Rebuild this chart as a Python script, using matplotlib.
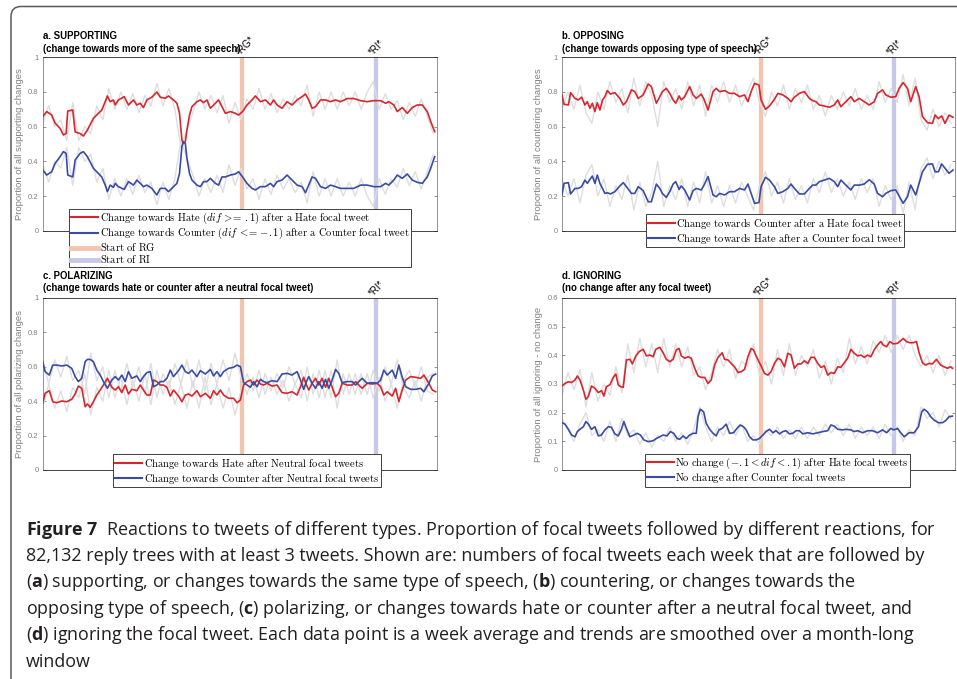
import numpy as np
import matplotlib
matplotlib.use("Agg")
from matplotlib import pyplot as plt
from matplotlib.lines import Line2D
from matplotlib.patches import FancyBboxPatch
from matplotlib.font_manager import FontProperties

plt.rcParams['font.family'] = ['Liberation Sans', 'DejaVu Sans']
plt.rcParams['mathtext.fontset'] = 'custom'
plt.rcParams['mathtext.rm'] = 'Open Sans'
plt.rcParams['mathtext.bf'] = 'Open Sans:bold'
plt.rcParams['mathtext.it'] = 'Open Sans:italic'
plt.rcParams['axes.linewidth'] = 0.6

# ---- data (weeks since start of the observation period) ----
RG_WEEK = 99.7
RI_WEEK = 166.2
raw_weeks = np.arange(0, 196, 3)

# a. supporting
a_weeks = [0, 2, 4.5, 6.2, 8.7, 10.3, 11.7, 12.5, 15, 16.2,
           18.7, 20.3, 22.3, 25.3, 27.8, 29.5, 31.2, 32.3, 33.7, 35.3,
           36.2, 37.8, 40.7, 42.8, 45.3, 47, 48.7, 50.3, 52, 54.5,
           57, 58.7, 61.2, 62.8, 65.3, 67, 68.3, 69.5, 70.3, 71.2,
           72, 73.3, 74.5, 77, 78.7, 80.3, 82, 83.7, 86.2, 87.8,
           89.5, 91.2, 93.7, 96.2, 97.8, 99.8, 102, 104.5, 106.2, 108.7,
           111.2, 113.7, 115.3, 117, 119.5, 122, 124.5, 127, 129.5, 131.2,
           132.8, 134.5, 136.2, 138.7, 141.2, 143.7, 146.2, 148.7, 152, 155.3,
           158.7, 162, 165.3, 168.7, 171.2, 172.8, 175.3, 177, 179.5, 182,
           184.5, 187, 189.5, 192, 193.7, 195.7]
a_hate = [0.658, 0.687, 0.667, 0.62, 0.59, 0.552, 0.56, 0.69, 0.696, 0.57,
          0.56, 0.546, 0.58, 0.648, 0.677, 0.696, 0.744, 0.777, 0.744, 0.754,
          0.725, 0.754, 0.773, 0.725, 0.754, 0.725, 0.735, 0.71, 0.754, 0.77,
          0.80, 0.77, 0.764, 0.777, 0.754, 0.735, 0.677, 0.523, 0.504, 0.513,
          0.58, 0.667, 0.715, 0.744, 0.754, 0.738, 0.754, 0.706, 0.735, 0.754,
          0.715, 0.677, 0.687, 0.677, 0.667, 0.687, 0.725, 0.754, 0.777, 0.744,
          0.754, 0.725, 0.754, 0.725, 0.706, 0.744, 0.725, 0.754, 0.773, 0.788,
          0.754, 0.706, 0.715, 0.754, 0.754, 0.744, 0.754, 0.744, 0.762, 0.762,
          0.75, 0.744, 0.75, 0.75, 0.735, 0.744, 0.725, 0.687, 0.71, 0.677,
          0.71, 0.725, 0.725, 0.687, 0.63, 0.571]
a_counter = [0.35, 0.321, 0.34, 0.388, 0.427, 0.456, 0.446, 0.321, 0.31, 0.408,
             0.446, 0.456, 0.427, 0.36, 0.33, 0.31, 0.263, 0.225, 0.263, 0.25,
             0.273, 0.254, 0.238, 0.283, 0.263, 0.292, 0.273, 0.254, 0.263, 0.244,
             0.206, 0.244, 0.244, 0.225, 0.254, 0.273, 0.33, 0.485, 0.513, 0.504,
             0.417, 0.33, 0.292, 0.263, 0.254, 0.283, 0.283, 0.302, 0.273, 0.263,
             0.31, 0.31, 0.321, 0.327, 0.34, 0.31, 0.273, 0.244, 0.235, 0.254,
             0.254, 0.273, 0.254, 0.283, 0.292, 0.321, 0.292, 0.263, 0.254, 0.219,
             0.263, 0.31, 0.302, 0.254, 0.244, 0.263, 0.254, 0.244, 0.244, 0.244,
             0.263, 0.263, 0.254, 0.254, 0.273, 0.263, 0.292, 0.321, 0.302, 0.327,
             0.292, 0.279, 0.273, 0.31, 0.36, 0.427]
a_raw_hate = [0.62, 0.72, 0.60, 0.64, 0.52, 0.74, 0.52, 0.60, 0.56, 0.72, 0.64,
              0.82, 0.70, 0.80, 0.70, 0.79, 0.68, 0.78, 0.72, 0.85, 0.72, 0.82,
              0.70, 0.48, 0.58, 0.68, 0.80, 0.70, 0.78, 0.68, 0.78, 0.62, 0.74,
              0.64, 0.76, 0.70, 0.82, 0.70, 0.79, 0.68, 0.76, 0.70, 0.78, 0.72,
              0.84, 0.66, 0.80, 0.70, 0.80, 0.70, 0.80, 0.72, 0.80, 0.70, 0.80,
              0.86, 0.70, 0.79, 0.70, 0.75, 0.64, 0.74, 0.66, 0.76, 0.66, 0.56]
a_raw_counter = [0.38, 0.28, 0.40, 0.36, 0.48, 0.26, 0.48, 0.40, 0.44, 0.28, 0.36,
                 0.18, 0.30, 0.20, 0.30, 0.21, 0.32, 0.22, 0.28, 0.15, 0.28, 0.18,
                 0.30, 0.52, 0.42, 0.32, 0.20, 0.30, 0.22, 0.32, 0.22, 0.38, 0.26,
                 0.36, 0.24, 0.30, 0.18, 0.30, 0.21, 0.32, 0.24, 0.30, 0.22, 0.28,
                 0.16, 0.34, 0.20, 0.30, 0.20, 0.30, 0.20, 0.28, 0.20, 0.30, 0.20,
                 0.14, 0.30, 0.21, 0.30, 0.25, 0.36, 0.26, 0.34, 0.24, 0.34, 0.44]

# b. opposing
b_weeks = [0, 1, 3.2, 4.3, 6.5, 8.2, 9.8, 11.5, 12.7, 14,
           15.2, 16.5, 17.7, 19, 20.3, 21.5, 22.7, 24.3, 26.5, 29,
           30.7, 32.3, 34.8, 36.5, 38.2, 40.7, 43.2, 44.8, 47.3, 49,
           50.3, 52.3, 54, 55.7, 57, 58.7, 59.8, 61.5, 64, 65.7,
           67.3, 69.8, 71, 73.2, 75.7, 77.3, 79, 81.5, 84, 86.5,
           89, 91.5, 93.2, 94.8, 96.5, 98.7, 99.8, 102, 104, 106.5,
           108.2, 110.7, 113.2, 114.8, 116.5, 119, 121.5, 124, 125.7, 127.3,
           129, 131.5, 134, 136.5, 138.2, 139.8, 142.3, 144.8, 146.5, 149,
           151.5, 154, 156.5, 158.2, 160.7, 162.3, 164.8, 167.3, 169, 171,
           173.2, 174.8, 177.3, 179, 180.7, 183.2, 185.7, 187, 188.7, 190.3,
           192, 194, 196]
b_hate = [0.783, 0.729, 0.725, 0.796, 0.763, 0.754, 0.77, 0.725, 0.744, 0.706,
          0.735, 0.687, 0.738, 0.696, 0.754, 0.773, 0.808, 0.788, 0.796, 0.763,
          0.725, 0.744, 0.812, 0.802, 0.763, 0.783, 0.846, 0.831, 0.735, 0.773,
          0.802, 0.821, 0.792, 0.754, 0.735, 0.777, 0.754, 0.773, 0.831, 0.783,
          0.763, 0.788, 0.763, 0.696, 0.802, 0.821, 0.802, 0.808, 0.792, 0.792,
          0.773, 0.783, 0.744, 0.802, 0.85, 0.84, 0.754, 0.70, 0.719, 0.758,
          0.792, 0.783, 0.763, 0.744, 0.77, 0.792, 0.802, 0.763, 0.75, 0.744,
          0.725, 0.719, 0.712, 0.725, 0.754, 0.715, 0.744, 0.773, 0.744, 0.763,
          0.744, 0.725, 0.744, 0.792, 0.812, 0.783, 0.77, 0.773, 0.821, 0.854,
          0.821, 0.744, 0.831, 0.773, 0.658, 0.623, 0.619, 0.667, 0.646, 0.662,
          0.619, 0.667, 0.654]
b_counter = [0.206, 0.273, 0.277, 0.212, 0.244, 0.244, 0.254, 0.292, 0.273, 0.296,
             0.315, 0.273, 0.321, 0.273, 0.244, 0.215, 0.219, 0.212, 0.225, 0.258,
             0.277, 0.254, 0.215, 0.215, 0.254, 0.231, 0.167, 0.167, 0.269, 0.244,
             0.215, 0.192, 0.225, 0.269, 0.283, 0.238, 0.258, 0.235, 0.177, 0.231,
             0.244, 0.235, 0.258, 0.312, 0.206, 0.196, 0.215, 0.206, 0.225, 0.225,
             0.244, 0.235, 0.269, 0.215, 0.158, 0.162, 0.254, 0.308, 0.292, 0.254,
             0.215, 0.225, 0.244, 0.269, 0.244, 0.212, 0.212, 0.244, 0.263, 0.263,
             0.283, 0.292, 0.302, 0.283, 0.254, 0.292, 0.263, 0.235, 0.263, 0.263,
             0.269, 0.294, 0.269, 0.215, 0.196, 0.215, 0.231, 0.235, 0.20, 0.158,
             0.196, 0.263, 0.206, 0.273, 0.34, 0.383, 0.385, 0.34, 0.34, 0.385,
             0.36, 0.331, 0.35]
b_raw_hate = [0.70, 0.80, 0.70, 0.84, 0.68, 0.62, 0.80, 0.70, 0.86, 0.74, 0.82,
              0.68, 0.88, 0.72, 0.86, 0.78, 0.60, 0.86, 0.74, 0.82, 0.70, 0.86,
              0.72, 0.84, 0.66, 0.84, 0.74, 0.86, 0.74, 0.84, 0.72, 0.80, 0.88,
              0.74, 0.66, 0.80, 0.72, 0.84, 0.70, 0.82, 0.74, 0.84, 0.70, 0.78,
              0.66, 0.78, 0.70, 0.80, 0.72, 0.82, 0.70, 0.78, 0.70, 0.86, 0.74,
              0.82, 0.74, 0.90, 0.72, 0.88, 0.64, 0.58, 0.70, 0.60, 0.68, 0.62]
b_raw_counter = [0.30, 0.20, 0.30, 0.16, 0.32, 0.38, 0.20, 0.30, 0.14, 0.26, 0.18,
                 0.32, 0.12, 0.28, 0.14, 0.22, 0.40, 0.14, 0.26, 0.18, 0.30, 0.14,
                 0.28, 0.16, 0.34, 0.16, 0.26, 0.14, 0.26, 0.16, 0.28, 0.20, 0.12,
                 0.26, 0.34, 0.20, 0.28, 0.16, 0.30, 0.18, 0.26, 0.16, 0.30, 0.22,
                 0.34, 0.22, 0.30, 0.20, 0.28, 0.18, 0.30, 0.22, 0.30, 0.14, 0.26,
                 0.18, 0.26, 0.10, 0.28, 0.12, 0.36, 0.42, 0.30, 0.40, 0.32, 0.38]

# c. polarizing
c_weeks = [0, 1.2, 3.3, 5, 7, 9.5, 12, 14.5, 16.2, 17.8,
           19.5, 21.2, 22.3, 23.7, 25.3, 27, 28.7, 30.3, 32.3, 34.5,
           36.2, 37.8, 39.5, 41.2, 42.8, 44.5, 47, 48.7, 50.3, 52,
           53.7, 55.3, 57, 58.7, 60.3, 62, 63.7, 65.3, 67.8, 69.5,
           71.2, 72.8, 74.5, 77, 78.7, 81.2, 83.7, 85.3, 87, 88.7,
           90.3, 92.8, 95.3, 97, 98.7, 100.3, 102, 103.7, 105.3, 107,
           108.7, 110.3, 112, 114.5, 117, 119.5, 122, 124.5, 127, 128.7,
           130.3, 131.7, 132.8, 134.5, 136.2, 137.8, 139.5, 141.2, 142.8, 144.5,
           146.2, 147.8, 149.5, 152, 154.5, 156.2, 157.8, 159.5, 162, 164.5,
           167, 168.7, 170.3, 172, 174.5, 176.2, 177.8, 179.5, 181.2, 183.7,
           186.2, 188.7, 190.3, 192.8, 194.5, 196.2]
c_hate = [0.388, 0.446, 0.461, 0.397, 0.391, 0.401, 0.397, 0.411, 0.442, 0.488,
          0.475, 0.368, 0.384, 0.364, 0.397, 0.436, 0.465, 0.494, 0.533, 0.481,
          0.465, 0.484, 0.45, 0.494, 0.442, 0.469, 0.461, 0.494, 0.465, 0.436,
          0.436, 0.523, 0.514, 0.494, 0.494, 0.481, 0.43, 0.465, 0.43, 0.397,
          0.436, 0.442, 0.43, 0.461, 0.426, 0.446, 0.417, 0.461, 0.436, 0.465,
          0.436, 0.417, 0.417, 0.391, 0.407, 0.494, 0.514, 0.523, 0.494, 0.523,
          0.50, 0.494, 0.504, 0.488, 0.494, 0.45, 0.446, 0.455, 0.436, 0.484,
          0.539, 0.494, 0.465, 0.504, 0.533, 0.494, 0.533, 0.481, 0.533, 0.481,
          0.426, 0.446, 0.504, 0.494, 0.494, 0.514, 0.494, 0.475, 0.504, 0.50,
          0.504, 0.484, 0.436, 0.455, 0.43, 0.475, 0.397, 0.465, 0.523, 0.543,
          0.539, 0.533, 0.552, 0.504, 0.465, 0.455]
c_counter = [0.63, 0.572, 0.552, 0.61, 0.61, 0.605, 0.61, 0.591, 0.543, 0.514,
             0.533, 0.63, 0.643, 0.643, 0.63, 0.581, 0.552, 0.514, 0.475, 0.523,
             0.543, 0.523, 0.552, 0.514, 0.572, 0.533, 0.547, 0.514, 0.543, 0.566,
             0.572, 0.484, 0.494, 0.514, 0.514, 0.533, 0.581, 0.543, 0.578, 0.61,
             0.572, 0.562, 0.581, 0.543, 0.578, 0.558, 0.585, 0.547, 0.572, 0.543,
             0.572, 0.591, 0.597, 0.61, 0.601, 0.508, 0.494, 0.481, 0.514, 0.484,
             0.527, 0.514, 0.508, 0.519, 0.514, 0.558, 0.562, 0.552, 0.572, 0.523,
             0.469, 0.514, 0.543, 0.504, 0.475, 0.514, 0.475, 0.527, 0.475, 0.523,
             0.585, 0.562, 0.508, 0.514, 0.514, 0.494, 0.514, 0.533, 0.504, 0.508,
             0.504, 0.523, 0.581, 0.552, 0.581, 0.533, 0.61, 0.539, 0.484, 0.469,
             0.469, 0.475, 0.455, 0.504, 0.547, 0.558]
c_raw_hate = [0.36, 0.50, 0.36, 0.46, 0.34, 0.48, 0.42, 0.56, 0.32, 0.48, 0.40,
              0.58, 0.42, 0.54, 0.38, 0.52, 0.40, 0.56, 0.38, 0.58, 0.44, 0.52,
              0.38, 0.50, 0.36, 0.52, 0.36, 0.54, 0.38, 0.50, 0.36, 0.48, 0.32,
              0.46, 0.56, 0.46, 0.58, 0.44, 0.54, 0.44, 0.52, 0.40, 0.50, 0.42,
              0.60, 0.44, 0.58, 0.42, 0.58, 0.36, 0.56, 0.44, 0.56, 0.44, 0.56,
              0.42, 0.54, 0.40, 0.50, 0.36, 0.52, 0.58, 0.48, 0.60, 0.46, 0.44]
c_raw_counter = [0.64, 0.50, 0.64, 0.54, 0.66, 0.52, 0.58, 0.44, 0.68, 0.52, 0.60,
                 0.42, 0.58, 0.46, 0.62, 0.48, 0.60, 0.44, 0.62, 0.42, 0.56, 0.48,
                 0.62, 0.50, 0.64, 0.48, 0.64, 0.46, 0.62, 0.50, 0.64, 0.52, 0.68,
                 0.54, 0.44, 0.54, 0.42, 0.56, 0.46, 0.56, 0.48, 0.60, 0.50, 0.58,
                 0.40, 0.56, 0.42, 0.58, 0.42, 0.64, 0.44, 0.56, 0.44, 0.56, 0.44,
                 0.58, 0.46, 0.60, 0.50, 0.64, 0.48, 0.42, 0.52, 0.40, 0.54, 0.56]

# d. ignoring
d_weeks_hate = [0, 1.5, 3.2, 4.8, 6.5, 7.7, 9, 10.7, 12, 13.2,
                14.8, 16.5, 18.2, 19.8, 21, 22.3, 24, 25.7, 27, 28.2,
                29.3, 30.7, 32.3, 34, 35.3, 37, 38.7, 40.7, 42.3, 44,
                45.7, 47, 49, 50.7, 52.3, 54, 55.7, 57.3, 58.7, 59.8,
                61.5, 63.2, 64.8, 66.5, 68.2, 69.8, 71.5, 73.2, 74.8, 76.5,
                78.2, 80.3, 81.5, 83.2, 84.8, 86.5, 88.2, 89.8, 91.5, 93.2,
                94.8, 96, 97.3, 98.7, 99.8, 101.5, 103.2, 104.8, 106.5, 108.2,
                109.8, 111.5, 113.2, 114.8, 116.5, 118.2, 119.8, 121.5, 123.2, 124.8,
                126.5, 128.2, 129.8, 131.5, 133.2, 134.8, 136.5, 138.2, 139.8, 141.5,
                143.2, 144.8, 146.5, 148.2, 149.8, 151.5, 153.2, 154.8, 156.5, 158.2,
                159.8, 161, 162.7, 164.3, 166, 168.2, 169.8, 171, 172.7, 174.3,
                176, 177.7, 179, 180.7, 182.3, 184, 185.7, 187.7, 189.8, 191.5,
                193.2, 194.8, 195.7]
d_hate = [0.293, 0.302, 0.308, 0.305, 0.314, 0.328, 0.314, 0.279, 0.247, 0.256,
          0.293, 0.285, 0.27, 0.277, 0.258, 0.291, 0.297, 0.323, 0.335, 0.297,
          0.291, 0.288, 0.384, 0.386, 0.37, 0.398, 0.413, 0.421, 0.398, 0.401,
          0.395, 0.421, 0.428, 0.409, 0.386, 0.378, 0.386, 0.419, 0.424, 0.398,
          0.39, 0.395, 0.39, 0.355, 0.328, 0.323, 0.323, 0.302, 0.314, 0.366,
          0.393, 0.409, 0.386, 0.384, 0.372, 0.36, 0.34, 0.343, 0.351, 0.395,
          0.424, 0.419, 0.398, 0.378, 0.363, 0.337, 0.331, 0.343, 0.372, 0.39,
          0.384, 0.36, 0.407, 0.401, 0.355, 0.37, 0.37, 0.381, 0.372, 0.393,
          0.393, 0.372, 0.358, 0.363, 0.331, 0.34, 0.337, 0.36, 0.358, 0.374,
          0.39, 0.421, 0.407, 0.398, 0.401, 0.393, 0.401, 0.395, 0.419, 0.436,
          0.448, 0.436, 0.43, 0.448, 0.44, 0.442, 0.451, 0.459, 0.448, 0.444,
          0.444, 0.448, 0.409, 0.374, 0.366, 0.372, 0.37, 0.386, 0.366, 0.36,
          0.355, 0.36, 0.355]
d_weeks_counter = [0, 1.5, 3.2, 4.8, 6.5, 7.7, 9, 10.7, 12, 13.2,
                   14.8, 16.5, 18.2, 19.8, 21.5, 23.2, 24.8, 26.5, 28.2, 29.8,
                   31, 32.3, 34, 36, 37.7, 39.3, 41, 43.2, 45.7, 47.3,
                   49, 50.7, 52.7, 54.3, 56, 57.7, 59, 60.7, 62.3, 64,
                   65.7, 67.3, 68.2, 69.3, 71, 72.3, 74, 75.7, 77.3, 78.7,
                   80.3, 82.3, 84, 86, 87.7, 89.3, 91, 92.3, 94, 95.7,
                   97.3, 99, 100.7, 102.3, 104, 105.7, 107.3, 109, 110.7, 112.3,
                   114, 115.7, 117.3, 119, 120.7, 123.2, 125.7, 128.2, 130.7, 133.2,
                   134.8, 136.5, 138.2, 140.7, 142.3, 144.8, 146.5, 148.2, 150.7, 153.2,
                   155.7, 158.2, 160.7, 162.7, 164.8, 166.5, 168.2, 169.8, 171.5, 174,
                   176.5, 178.7, 180.3, 181.5, 183.2, 184.8, 186.5, 188.7, 190.7, 192.3,
                   194, 195.7]
d_counter = [0.165, 0.16, 0.142, 0.122, 0.116, 0.134, 0.142, 0.151, 0.169, 0.16,
             0.142, 0.151, 0.119, 0.122, 0.14, 0.151, 0.149, 0.126, 0.119, 0.142,
             0.169, 0.145, 0.116, 0.122, 0.128, 0.122, 0.105, 0.099, 0.102, 0.11,
             0.116, 0.122, 0.119, 0.134, 0.128, 0.11, 0.107, 0.119, 0.11, 0.122,
             0.128, 0.128, 0.186, 0.212, 0.203, 0.163, 0.142, 0.128, 0.119, 0.14,
             0.145, 0.16, 0.128, 0.13, 0.145, 0.157, 0.151, 0.14, 0.116, 0.105,
             0.105, 0.11, 0.122, 0.134, 0.142, 0.13, 0.137, 0.126, 0.134, 0.137,
             0.126, 0.128, 0.137, 0.137, 0.126, 0.13, 0.126, 0.13, 0.134, 0.137,
             0.157, 0.153, 0.142, 0.14, 0.142, 0.14, 0.134, 0.137, 0.13, 0.137,
             0.137, 0.13, 0.14, 0.13, 0.145, 0.14, 0.145, 0.13, 0.116, 0.13,
             0.13, 0.151, 0.203, 0.212, 0.203, 0.186, 0.174, 0.165, 0.165, 0.172,
             0.186, 0.188]
d_raw_hate = [0.26, 0.34, 0.28, 0.35, 0.22, 0.34, 0.24, 0.30, 0.26, 0.36, 0.27,
              0.44, 0.34, 0.46, 0.36, 0.44, 0.34, 0.46, 0.36, 0.44, 0.36, 0.43,
              0.33, 0.36, 0.28, 0.34, 0.42, 0.36, 0.42, 0.32, 0.38, 0.36, 0.44,
              0.33, 0.38, 0.30, 0.42, 0.33, 0.44, 0.33, 0.40, 0.36, 0.42, 0.32,
              0.38, 0.30, 0.39, 0.34, 0.46, 0.37, 0.43, 0.37, 0.45, 0.41, 0.47,
              0.41, 0.47, 0.42, 0.47, 0.40, 0.36, 0.40, 0.34, 0.40, 0.33, 0.38]
d_raw_counter = [0.18, 0.14, 0.10, 0.16, 0.20, 0.12, 0.14, 0.10, 0.17, 0.10, 0.18,
                 0.12, 0.14, 0.09, 0.13, 0.08, 0.12, 0.10, 0.15, 0.10, 0.13, 0.09,
                 0.14, 0.22, 0.15, 0.10, 0.15, 0.12, 0.17, 0.12, 0.16, 0.10, 0.12,
                 0.09, 0.14, 0.12, 0.15, 0.11, 0.14, 0.11, 0.15, 0.11, 0.15, 0.12,
                 0.16, 0.13, 0.16, 0.12, 0.16, 0.11, 0.15, 0.12, 0.15, 0.11, 0.16,
                 0.12, 0.15, 0.10, 0.14, 0.12, 0.22, 0.18, 0.20, 0.15, 0.21, 0.18]

ticks_01 = [0, 0.2, 0.4, 0.6, 0.8, 1]
ticklabels_01 = ['0', '0.2', '0.4', '0.6', '0.8', '1']
ticks_06 = [0, 0.1, 0.2, 0.3, 0.4, 0.5, 0.6]
ticklabels_06 = ['0', '0.1', '0.2', '0.3', '0.4', '0.5', '0.6']

caption_lines = [
    r"$\mathbf{Figure\ 7}$  Reactions to tweets of different types. Proportion of focal tweets followed by different reactions, for",
    "82,132 reply trees with at least 3 tweets. Shown are: numbers of focal tweets each week that are followed by",
    r"($\mathbf{a}$) supporting, or changes towards the same type of speech, ($\mathbf{b}$) countering, or changes towards the",
    r"opposing type of speech, ($\mathbf{c}$) polarizing, or changes towards hate or counter after a neutral focal tweet, and",
    r"($\mathbf{d}$) ignoring the focal tweet. Each data point is a week average and trends are smoothed over a month-long",
    "window",
]

# ---- styling ----
W, H = 957, 679
RED = '#d7262e'
BLUE = '#3a4ba3'
RAW = '#dedede'
RG_COL = '#f3c5b0'
RI_COL = '#c5c8e8'
GREY = '#808080'
DARK = '#262626'
LEG_FONT = FontProperties(size=7.6, math_fontfamily='cm')

fig = plt.figure(figsize=(W / 100, H / 100), dpi=100)


def rect(l, t, r, b):
    return [l / W, 1 - b / H, (r - l) / W, (b - t) / H]


def panel(box, wk_h, hate, wk_c, counter, raw_h, raw_c, yticks, ytl,
          ylab, ylab_x, titles, title_y, leg_labels, leg_xy, rg_label=True):
    ax = fig.add_axes(rect(*box))
    ax.axvline(RG_WEEK, color=RG_COL, lw=3.1, zorder=1)
    ax.axvline(RI_WEEK, color=RI_COL, lw=3.1, zorder=1)
    ax.plot(raw_weeks, raw_h, color=RAW, lw=1.0, zorder=2)
    ax.plot(raw_weeks, raw_c, color=RAW, lw=1.0, zorder=2)
    ax.plot(wk_h, hate, color=RED, lw=1.2, zorder=3)
    ax.plot(wk_c, counter, color=BLUE, lw=1.2, zorder=3)
    ax.set_xlim(0, 197)
    ax.set_ylim(yticks[0], yticks[-1])
    ax.set_xticks([])
    ax.set_yticks(yticks)
    ax.set_yticklabels(ytl)
    ax.tick_params(axis='y', direction='in', length=2.5, width=0.6, colors=GREY,
                   labelsize=5.5, right=True, pad=3)
    for s in ('left', 'right'):
        ax.spines[s].set_color(GREY)
    for s in ('top', 'bottom'):
        ax.spines[s].set_color(DARK)

    tr = ax.get_xaxis_transform()
    if rg_label:
        ax.text(RG_WEEK - 0.8, 1.0, '*RG*', transform=tr, rotation=45, rotation_mode='anchor',
                ha='left', va='bottom', fontsize=7)
    ax.text(RI_WEEK - 0.8, 1.0, '*RI*', transform=tr, rotation=45, rotation_mode='anchor',
            ha='left', va='bottom', fontsize=7)

    cy = (box[1] + box[3]) / 2
    fig.text(ylab_x / W, 1 - cy / H, ylab, rotation=90, ha='center', va='center',
             color=GREY, fontsize=6.8)
    for t, ty in zip(titles, title_y):
        fig.text(box[0] / W, 1 - ty / H, t, fontweight='bold', fontsize=6.9,
                 ha='left', va='center')

    handles = [Line2D([], [], color=RED, lw=1.5), Line2D([], [], color=BLUE, lw=1.5)]
    if len(leg_labels) > 2:
        handles += [Line2D([], [], color=RG_COL, lw=3.5), Line2D([], [], color=RI_COL, lw=3.5)]
    leg = ax.legend(handles, leg_labels, loc='upper left',
                    bbox_to_anchor=(leg_xy[0] / W, 1 - leg_xy[1] / H),
                    bbox_transform=fig.transFigure, borderaxespad=0, borderpad=0.15,
                    labelspacing=0.0, handlelength=2.6, handletextpad=0.12,
                    prop=LEG_FONT, fancybox=False, framealpha=1, edgecolor='#404040')
    leg.get_frame().set_linewidth(0.7)
    return ax


panel((42.7, 57.3, 437.3, 230.7), a_weeks, a_hate, a_weeks, a_counter,
      a_raw_hate, a_raw_counter, ticks_01, ticklabels_01,
      'Proportion of all supporting changes', 19.3,
      ['a. SUPPORTING', '(change towards more of the same speech)'], [36, 49],
      [r'$\mathrm{Change\ towards\ Hate\ }(dif\,>\!\!=\,.1)\mathrm{\ after\ a\ Hate\ focal\ tweet}$',
       r'$\mathrm{Change\ towards\ Counter\ }(dif\,<\!\!=\,{-}.1)\mathrm{\ after\ a\ Counter\ focal\ tweet}$',
       r'$\mathrm{Start\ of\ RG}$', r'$\mathrm{Start\ of\ RI}$'],
      (69.3, 209.3))

panel((562, 57.3, 955, 230.7), b_weeks, b_hate, b_weeks, b_counter,
      b_raw_hate, b_raw_counter, ticks_01, ticklabels_01,
      'Proportion of all countering changes', 538.3,
      ['b. OPPOSING', '(change towards opposing type of speech)'], [36, 49],
      [r'$\mathrm{Change\ towards\ Counter\ after\ a\ Hate\ focal\ tweet}$',
       r'$\mathrm{Change\ towards\ Hate\ after\ a\ Counter\ focal\ tweet}$'],
      (645.7, 214.3))

panel((42.7, 298, 437.3, 470), c_weeks, c_hate, c_weeks, c_counter,
      c_raw_hate, c_raw_counter, ticks_01, ticklabels_01,
      'Proportion of all polarizing changes', 19.3,
      ['c. POLARIZING', '(change towards hate or counter after a neutral focal tweet)'], [276, 288],
      [r'$\mathrm{Change\ towards\ Hate\ after\ Neutral\ focal\ tweets}$',
       r'$\mathrm{Change\ towards\ Counter\ after\ Neutral\ focal\ tweets}$'],
      (113.3, 454.3), rg_label=False)

panel((562, 298, 955, 470), d_weeks_hate, d_hate, d_weeks_counter, d_counter,
      d_raw_hate, d_raw_counter, ticks_06, ticklabels_06,
      'Proportion of all ignoring - no change', 538.3,
      ['d. IGNORING', '(no change after any focal tweet)'], [276, 288],
      [r'$\mathrm{No\ change\ }(-.1 < dif < .1)\mathrm{\ after\ Hate\ focal\ tweets}$',
       r'$\mathrm{No\ change\ after\ Counter\ focal\ tweets}$'],
      (644.7, 454.3))

# caption
for i, line in enumerate(caption_lines):
    fig.text(26 / W, 1 - (534.6 + 26.4 * i) / H, line, family='Open Sans',
             fontsize=12.9, color='#231f20', ha='left', va='baseline')

# rounded frame around figure and caption
frame = FancyBboxPatch((0.11, -0.10), 10.0, 6.825, boxstyle='round,pad=0,rounding_size=0.1',
                       transform=fig.dpi_scale_trans, fill=False, edgecolor='#5a5a5a', lw=1.1)
fig.add_artist(frame)

fig.savefig('out.png', dpi=100)
